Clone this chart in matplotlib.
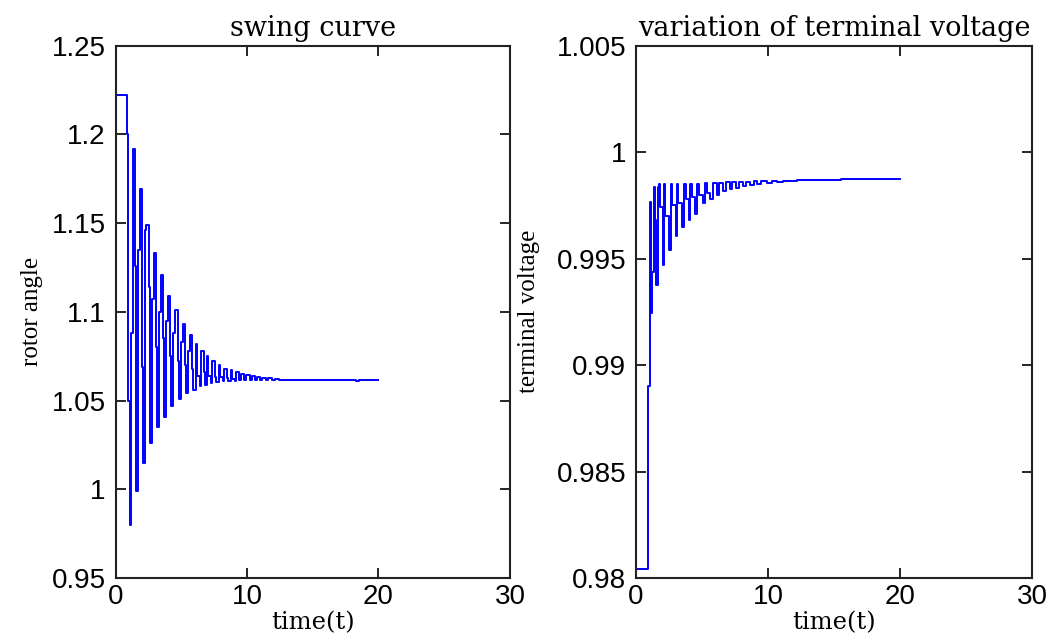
import matplotlib
matplotlib.use('Agg')
import matplotlib.pyplot as plt

# step levels of the rotor angle (time, value), held until next time
t_rotor = [0.0, 0.90, 0.98, 1.10, 1.18, 1.30, 1.48, 1.58, 1.70, 1.90, 2.04, 2.12,
           2.25, 2.30, 2.55, 2.62, 2.78, 2.90, 3.10, 3.18, 3.30, 3.45, 3.62, 3.70,
           3.85, 4.00, 4.15, 4.25, 4.40, 4.55, 4.72, 4.80, 4.95, 5.10, 5.27, 5.35,
           5.50, 5.65, 5.82, 5.90, 6.10, 6.20, 6.40, 6.50, 6.70, 6.80, 6.95, 7.05,
           7.25, 7.35, 7.55, 7.65, 7.85, 7.95, 8.15, 8.25, 8.45, 8.55, 8.75, 8.85,
           9.05, 9.15, 9.40, 9.55, 9.80, 9.95, 10.20, 10.35, 10.60, 10.75, 11.00,
           11.15, 11.45, 11.60, 11.90, 12.10, 12.40, 18.3, 18.5, 20.0]
rotor = [1.222, 1.200, 1.050, 0.980, 1.088, 1.192, 1.126, 0.999, 1.135, 1.169, 1.069, 1.015,
         1.146, 1.149, 1.114, 1.026, 1.107, 1.133, 1.080, 1.035, 1.100, 1.121, 1.085, 1.041,
         1.095, 1.109, 1.075, 1.047, 1.088, 1.101, 1.072, 1.051, 1.083, 1.093, 1.070, 1.054,
         1.078, 1.087, 1.068, 1.056, 1.082, 1.064, 1.058, 1.078, 1.066, 1.059, 1.075, 1.064,
         1.060, 1.072, 1.063, 1.0605, 1.070, 1.063, 1.061, 1.068, 1.0625, 1.061, 1.067, 1.062,
         1.0612, 1.066, 1.0615, 1.065, 1.0615, 1.0645, 1.0615, 1.064, 1.0615, 1.063, 1.0615,
         1.0628, 1.0615, 1.0625, 1.0615, 1.0622, 1.0618, 1.0612, 1.0618, 1.0615]

# step levels of the terminal voltage
t_volt = [0.0, 0.93, 1.06, 1.12, 1.20, 1.34, 1.45, 1.55, 1.65, 1.75, 1.82, 2.05,
          2.12, 2.20, 2.50, 2.62, 2.75, 3.00, 3.10, 3.20, 3.50, 3.62, 3.75, 4.00,
          4.12, 4.25, 4.50, 4.65, 4.80, 5.05, 5.20, 5.35, 5.60, 5.80, 6.10, 6.30,
          6.60, 6.80, 7.10, 7.30, 7.60, 7.80, 8.10, 8.30, 8.60, 8.90, 9.20, 9.50,
          9.90, 10.3, 10.7, 11.1, 11.6, 12.2, 13.0, 15.5, 16.0, 20.0]
volt = [0.9804, 0.9890, 0.99766, 0.99244, 0.99438, 0.99836, 0.99680, 0.99375, 0.99836, 0.99850,
        0.99742, 0.99469, 0.99852, 0.99700, 0.99540, 0.99852, 0.99750, 0.99605, 0.99852,
        0.99760, 0.99648, 0.99852, 0.99780, 0.99683, 0.99852, 0.99790, 0.99711, 0.99852,
        0.99800, 0.99760, 0.99855, 0.99810, 0.99781, 0.99856, 0.99800, 0.99857, 0.99815,
        0.99858, 0.99825, 0.99859, 0.99833, 0.99860, 0.99840, 0.99861, 0.99845, 0.99862,
        0.99850, 0.99863, 0.99855, 0.99864, 0.99858, 0.99866, 0.99862, 0.99868, 0.99868,
        0.99872, 0.99872, 0.99872]

tick_font = 'Liberation Sans'
text_font = 'DejaVu Serif'
ylab_font = 'Liberation Serif'

fig = plt.figure(figsize=(10.53, 6.36), dpi=100)
ax1 = fig.add_axes([0.1097, 0.0912, 0.3746, 0.8371])
ax2 = fig.add_axes([0.6040, 0.0912, 0.3761, 0.8371])


def style(ax):
    ax.tick_params(direction='in', length=7, width=1.2, top=True, right=True,
                   labelsize=20)
    ax.tick_params(axis='y', pad=7)
    ax.tick_params(axis='x', pad=4)
    for s in ax.spines.values():
        s.set_linewidth(1.5)
        s.set_color('#222222')
    for lab in ax.get_xticklabels() + ax.get_yticklabels():
        lab.set_fontfamily(tick_font)


ax1.plot(t_rotor, rotor, color='#0000ff', lw=1.4, drawstyle='steps-post')
ax1.set_xlim(0, 30)
ax1.set_ylim(0.95, 1.25)
ax1.set_xticks([0, 10, 20, 30])
ax1.set_yticks([0.95, 1.0, 1.05, 1.1, 1.15, 1.2, 1.25])
ax1.set_yticklabels(['0.95', '1', '1.05', '1.1', '1.15', '1.2', '1.25'])
ax1.set_title('swing curve', fontfamily=text_font, fontsize=19.5, pad=7)
ax1.set_xlabel('time(t)', fontfamily=text_font, fontsize=17.5, labelpad=1)
ax1.set_ylabel('rotor angle', fontfamily=ylab_font, fontsize=18, labelpad=6)
style(ax1)

ax2.plot(t_volt, volt, color='#0000ff', lw=1.4, drawstyle='steps-post')
ax2.set_xlim(0, 30)
ax2.set_ylim(0.98, 1.005)
ax2.set_xticks([0, 10, 20, 30])
ax2.set_yticks([0.98, 0.985, 0.99, 0.995, 1.0, 1.005])
ax2.set_yticklabels(['0.98', '0.985', '0.99', '0.995', '1', '1.005'])
ax2.set_title('variation of terminal voltage', fontfamily=text_font, fontsize=19.5, pad=7)
ax2.set_xlabel('time(t)', fontfamily=text_font, fontsize=17.5, labelpad=1)
ax2.set_ylabel('terminal voltage', fontfamily=ylab_font, fontsize=18, labelpad=12)
style(ax2)

fig.savefig('out.png', dpi=100)
